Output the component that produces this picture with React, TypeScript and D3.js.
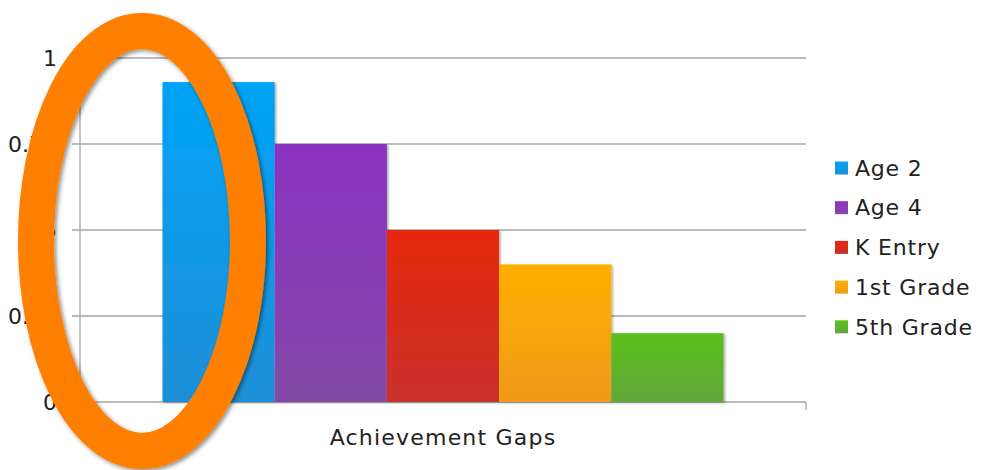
import React from "react";
import * as d3 from "d3";

const categories = ["Achievement Gaps"];
const seriesNames = ["Age 2", "Age 4", "K Entry", "1st Grade", "5th Grade"];
const seriesValues = [0.93, 0.75, 0.5, 0.4, 0.2];
const yTicks = [0, 0.25, 0.5, 0.75, 1];
const yTickLabels = ["0", "0.25", "0.5", "0.75", "1"];
const colorsTop = ["#00A3F7", "#8C32C2", "#E5280A", "#FFAF00", "#5BBF1C"];
const colorsBottom = ["#1F8FD6", "#8349A6", "#C9302D", "#F09A1A", "#61A73A"];

const W = 981;
const H = 470;
const FONT = "'DejaVu Sans', sans-serif";

export default function App() {
  const y = d3.scaleLinear().domain([0, 1]).range([402, 58]);
  const xOuter = d3.scaleBand().domain(categories).range([80, 806]).paddingInner(0).paddingOuter(0.147);
  const band = xOuter.bandwidth();
  const x0 = xOuter(categories[0]) as number;
  const xInner = d3.scaleBand().domain(seriesNames).range([x0, x0 + band]);

  return (
    <svg width={W} height={H} style={{ position: "absolute", left: 0, top: 0, background: "#fff" }}>
      <defs>
        {seriesNames.map((s, i) => (
          <linearGradient key={s} id={`g${i}`} x1="0" y1="0" x2="0" y2="1">
            <stop offset="0" stopColor={colorsTop[i]} />
            <stop offset="1" stopColor={colorsBottom[i]} />
          </linearGradient>
        ))}
        <filter id="shadow" x="-20%" y="-20%" width="140%" height="140%">
          <feDropShadow dx="1.5" dy="1" stdDeviation="1.2" floodColor="#000" floodOpacity="0.35" />
        </filter>
        <filter id="eshadow" x="-20%" y="-20%" width="140%" height="140%">
          <feDropShadow dx="2" dy="2" stdDeviation="2" floodColor="#000" floodOpacity="0.45" />
        </filter>
      </defs>
      {yTicks.map((t) => (
        <line key={t} x1={72} x2={806} y1={y(t)} y2={y(t)} stroke="#A6A6A6" strokeWidth={1.3} />
      ))}
      <line x1={80} x2={80} y1={y(1)} y2={y(0)} stroke="#A6A6A6" strokeWidth={1.3} />
      <line x1={806} x2={806} y1={y(0)} y2={y(0) + 8} stroke="#A6A6A6" strokeWidth={1.3} />
      {yTicks.map((t, i) => (
        <text key={t} x={57} y={y(t)} dy="0.35em" textAnchor="end" fontFamily={FONT} fontSize={22} fill="#222">
          {yTickLabels[i]}
        </text>
      ))}
      {seriesNames.map((s, i) => (
        <rect
          key={s}
          x={xInner(s) as number}
          y={y(seriesValues[i])}
          width={xInner.bandwidth()}
          height={y(0) - y(seriesValues[i])}
          fill={`url(#g${i})`}
          filter="url(#shadow)"
        />
      ))}
      {categories.map((c) => (
        <text key={c} x={(xOuter(c) as number) + band / 2} y={437} dy="0.35em" textAnchor="middle" fontFamily={FONT} fontSize={22} letterSpacing={1.2} fill="#222">
          {c}
        </text>
      ))}
      {seriesNames.map((s, i) => (
        <g key={s} transform={`translate(835, ${168 + i * 39.7})`}>
          <rect x={0} y={-6.5} width={13} height={13} fill={`url(#g${i})`} />
          <text x={20} y={0} dy="0.35em" fontFamily={FONT} fontSize={22} letterSpacing={0.8} fill="#222">
            {s}
          </text>
        </g>
      ))}
      <ellipse cx={142} cy={241} rx={106} ry={210} fill="none" stroke="#FF7F00" strokeWidth={36} filter="url(#eshadow)" />
    </svg>
  );
}
